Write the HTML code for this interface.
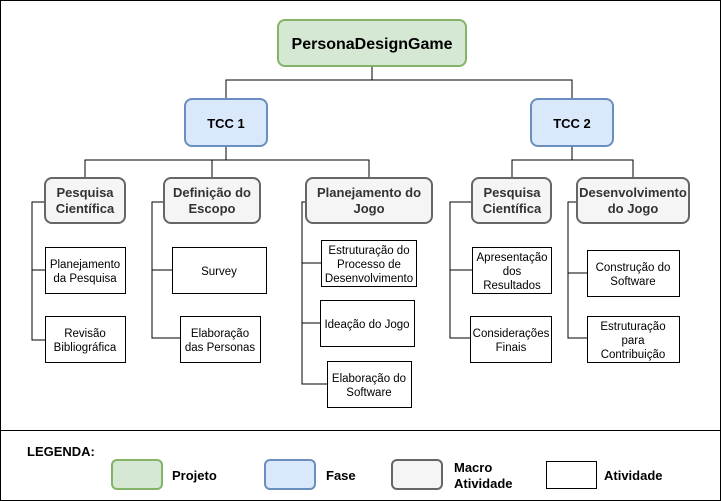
<!DOCTYPE html>
<html><head><meta charset="utf-8"><style>
html,body{margin:0;padding:0;background:#fff}
svg{display:block;font-family:"Liberation Sans",Arial,sans-serif}
</style></head><body>
<svg width="721" height="501" viewBox="0 0 721 501" xmlns="http://www.w3.org/2000/svg">
<rect x="0.5" y="0.5" width="720" height="500" fill="#fff" stroke="#000"/>
<line x1="0" y1="430.5" x2="721" y2="430.5" stroke="#000"/>
<g stroke="#000" fill="none" stroke-width="1">
<path d="M372 66V80H226V99M372 80H572V99"/>
<path d="M226 146V160H85V177M226 160H369V177M212 160V177"/>
<path d="M572 146V160H512V177M572 160H633V177"/>
<path d="M45 202H32V340H45M32 270H45"/>
<path d="M164 202H152V338H180M152 270H172"/>
<path d="M306 202H302V384H327M302 263H321M302 323H320"/>
<path d="M472 202H450V338H470M450 270H472"/>
<path d="M577 202H568V338H587M568 273H587"/>
</g>
<rect x="278" y="20" width="188" height="46" rx="7" fill="#d5e8d4" stroke="#82b366" stroke-width="2"/>
<rect x="185" y="99" width="82" height="47" rx="7" fill="#dae8fc" stroke="#6c8ebf" stroke-width="2"/>
<rect x="531" y="99" width="82" height="47" rx="7" fill="#dae8fc" stroke="#6c8ebf" stroke-width="2"/>
<g fill="#f5f5f5" stroke="#666" stroke-width="2">
<rect x="45" y="178" width="80" height="45" rx="7"/>
<rect x="164" y="178" width="96" height="45" rx="7"/>
<rect x="306" y="178" width="126" height="45" rx="7"/>
<rect x="472" y="178" width="79" height="45" rx="7"/>
<rect x="577" y="178" width="112" height="45" rx="7"/>
</g>
<g fill="#fff" stroke="#000">
<rect x="45.5" y="247.5" width="80" height="46"/>
<rect x="45.5" y="316.5" width="80" height="46"/>
<rect x="172.5" y="247.5" width="94" height="46"/>
<rect x="180.5" y="316.5" width="80" height="46"/>
<rect x="321.5" y="240.5" width="95" height="46"/>
<rect x="320.5" y="300.5" width="94" height="46"/>
<rect x="327.5" y="361.5" width="84" height="46"/>
<rect x="472.5" y="247.5" width="79" height="46"/>
<rect x="470.5" y="316.5" width="81" height="46"/>
<rect x="587.5" y="250.5" width="92" height="46"/>
<rect x="587.5" y="316.5" width="92" height="46"/>
</g>
<g text-anchor="middle" font-weight="bold" fill="#333">
<text x="372" y="49" font-size="16" fill="#000">PersonaDesignGame</text>
<text x="226" y="128" font-size="13" fill="#000">TCC 1</text>
<text x="572" y="128" font-size="13" fill="#000">TCC 2</text>
<text x="85" y="197" font-size="13">Pesquisa</text><text x="85" y="213" font-size="13">Científica</text>
<text x="212" y="197" font-size="13">Definição do</text><text x="212" y="213" font-size="13">Escopo</text>
<text x="369" y="197" font-size="13">Planejamento do</text><text x="369" y="213" font-size="13">Jogo</text>
<text x="512" y="197" font-size="13">Pesquisa</text><text x="512" y="213" font-size="13">Científica</text>
<text x="633" y="197" font-size="13">Desenvolvimento</text><text x="633" y="213" font-size="13">do Jogo</text>
</g>
<g text-anchor="middle" font-size="11.5" fill="#000">
<text x="85" y="268">Planejamento</text><text x="85" y="282">da Pesquisa</text>
<text x="85" y="337">Revisão</text><text x="85" y="351">Bibliográfica</text>
<text x="219" y="275">Survey</text>
<text x="220" y="337">Elaboração</text><text x="220" y="351">das Personas</text>
<text x="369" y="254">Estruturação do</text><text x="369" y="268">Processo de</text><text x="369" y="282">Desenvolvimento</text>
<text x="367" y="328">Ideação do Jogo</text>
<text x="369" y="382">Elaboração do</text><text x="369" y="396">Software</text>
<text x="512" y="261">Apresentação</text><text x="512" y="275">dos</text><text x="512" y="289">Resultados</text>
<text x="511" y="337">Considerações</text><text x="511" y="351">Finais</text>
<text x="633" y="271">Construção do</text><text x="633" y="285">Software</text>
<text x="633" y="330">Estruturação</text><text x="633" y="344">para</text><text x="633" y="358">Contribuição</text>
</g>
<text x="27" y="456" font-size="13" font-weight="bold">LEGENDA:</text>
<rect x="112" y="460" width="50" height="29" rx="5" fill="#d5e8d4" stroke="#82b366" stroke-width="2"/>
<rect x="265" y="460" width="50" height="29" rx="5" fill="#dae8fc" stroke="#6c8ebf" stroke-width="2"/>
<rect x="392" y="460" width="50" height="29" rx="5" fill="#f5f5f5" stroke="#666" stroke-width="2"/>
<rect x="546.5" y="461.5" width="50" height="27" fill="#fff" stroke="#000"/>
<g font-size="13" font-weight="bold">
<text x="172" y="480">Projeto</text>
<text x="326" y="480">Fase</text>
<text x="454" y="472">Macro</text><text x="454" y="488">Atividade</text>
<text x="604" y="480">Atividade</text>
</g>
</svg>
</body></html>
